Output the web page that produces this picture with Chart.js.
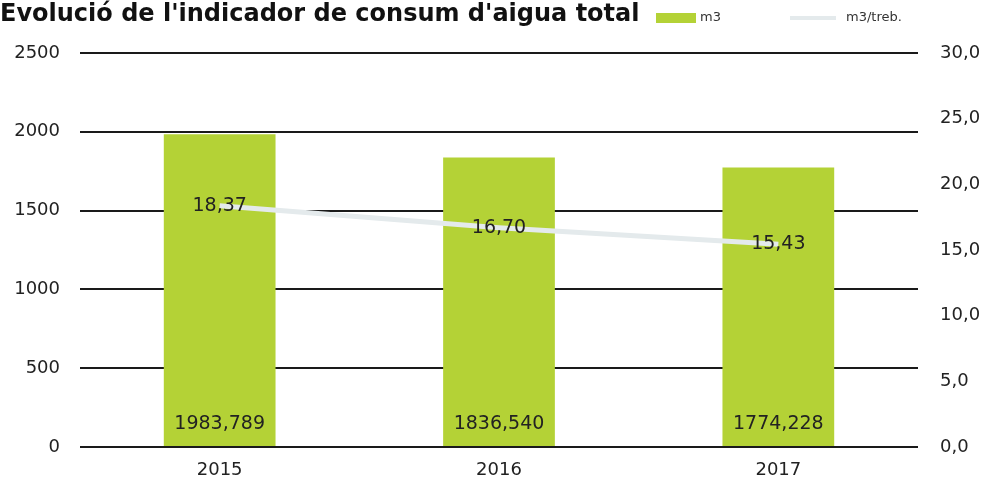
<!DOCTYPE html>
<html>
<head>
<meta charset="utf-8">
<script src="https://cdn.jsdelivr.net/npm/chart.js@4/dist/chart.umd.min.js"></script>
<style>
  html, body { margin: 0; padding: 0; background: #fff; }
  #wrap { width: 988px; height: 481px; position: relative; }
</style>
</head>
<body>
<div id="wrap"><canvas id="waterChart" width="988" height="481"></canvas></div>
<script>
// Chart data
const years = ['2015', '2016', '2017'];
const totalM3 = [1983.789, 1836.540, 1774.228];
const m3PerWorker = [18.37, 16.70, 15.43];
const leftTicks = [0, 500, 1000, 1500, 2000, 2500];
const rightTicks = [0, 5, 10, 15, 20, 25, 30];

const FONT = '"DejaVu Sans", Verdana, sans-serif';
const barColor = '#b4d236';
const lineColor = '#e4eaec';

// format numbers with comma decimal
function fmt(v, digits) {
    return v.toFixed(digits).replace('.', ',');
}

// draws the title, legend and value labels
const labelsPlugin = {
    id: 'labelsPlugin',
    afterDatasetsDraw(chart) {
        const ctx = chart.ctx;
        ctx.save();
        ctx.fillStyle = '#222';
        ctx.font = '19px ' + FONT;
        ctx.textAlign = 'center';
        ctx.textBaseline = 'middle';

        const barMeta = chart.getDatasetMeta(0);
        const yLeft = chart.scales.y;
        barMeta.data.forEach((bar, i) => {
            ctx.fillText(fmt(totalM3[i], 3), bar.x, yLeft.getPixelForValue(0) - 23);
        });

        const lineMeta = chart.getDatasetMeta(1);
        lineMeta.data.forEach((pt, i) => {
            ctx.fillText(fmt(m3PerWorker[i], 2), pt.x, pt.y);
        });
        ctx.restore();
    },
    afterDraw(chart) {
        const ctx = chart.ctx;
        ctx.save();
        // title
        ctx.fillStyle = '#111';
        ctx.font = 'bold 24px ' + FONT;
        ctx.textAlign = 'left';
        ctx.textBaseline = 'alphabetic';
        ctx.fillText("Evolució de l'indicador de consum d'aigua total", 0, 21);

        // legend
        ctx.font = '13px ' + FONT;
        ctx.textBaseline = 'middle';
        ctx.fillStyle = barColor;
        ctx.fillRect(656, 13, 40, 10);
        ctx.fillStyle = '#333';
        ctx.fillText('m3', 700, 18);

        ctx.strokeStyle = lineColor;
        ctx.lineWidth = 4;
        ctx.beginPath();
        ctx.moveTo(790, 18);
        ctx.lineTo(836, 18);
        ctx.stroke();
        ctx.fillStyle = '#333';
        ctx.fillText('m3/treb.', 846, 18);
        ctx.restore();
    }
};

const ctx = document.getElementById('waterChart').getContext('2d');
new Chart(ctx, {
    data: {
        labels: years,
        datasets: [{
            type: 'bar',
            label: 'm3',
            data: totalM3,
            backgroundColor: barColor,
            borderWidth: 0,
            barPercentage: 0.8,
            categoryPercentage: 0.5,
            yAxisID: 'y',
            order: 2
        }, {
            type: 'line',
            label: 'm3/treb.',
            data: m3PerWorker,
            borderColor: lineColor,
            borderWidth: 5,
            pointRadius: 0,
            tension: 0,
            yAxisID: 'y1',
            order: 1
        }]
    },
    options: {
        responsive: false,
        animation: false,
        layout: {
            padding: { top: 53, left: 0, right: 0, bottom: 0 }
        },
        plugins: {
            legend: { display: false },
            tooltip: { enabled: false },
            title: { display: false }
        },
        scales: {
            x: {
                grid: { display: false },
                border: { display: false },
                ticks: {
                    color: '#222',
                    font: { family: FONT, size: 18 },
                    padding: 5
                },
                afterFit(scale) { scale.height = 34; }
            },
            y: {
                position: 'left',
                min: 0,
                max: 2500,
                afterBuildTicks(scale) {
                    scale.ticks = leftTicks.map(v => ({ value: v }));
                },
                grid: {
                    color: '#1a1a1a',
                    lineWidth: 2,
                    drawTicks: false
                },
                border: { display: false },
                ticks: {
                    color: '#222',
                    font: { family: FONT, size: 18 },
                    padding: 20,
                    callback: v => String(v)
                },
                afterFit(scale) { scale.width = 80; }
            },
            y1: {
                position: 'right',
                min: 0,
                max: 30,
                afterBuildTicks(scale) {
                    scale.ticks = rightTicks.map(v => ({ value: v }));
                },
                grid: { display: false, drawTicks: false },
                border: { display: false },
                ticks: {
                    color: '#222',
                    font: { family: FONT, size: 18 },
                    padding: 22,
                    callback: v => fmt(v, 1)
                },
                afterFit(scale) { scale.width = 70; }
            }
        }
    },
    plugins: [labelsPlugin]
});
</script>
</body>
</html>
